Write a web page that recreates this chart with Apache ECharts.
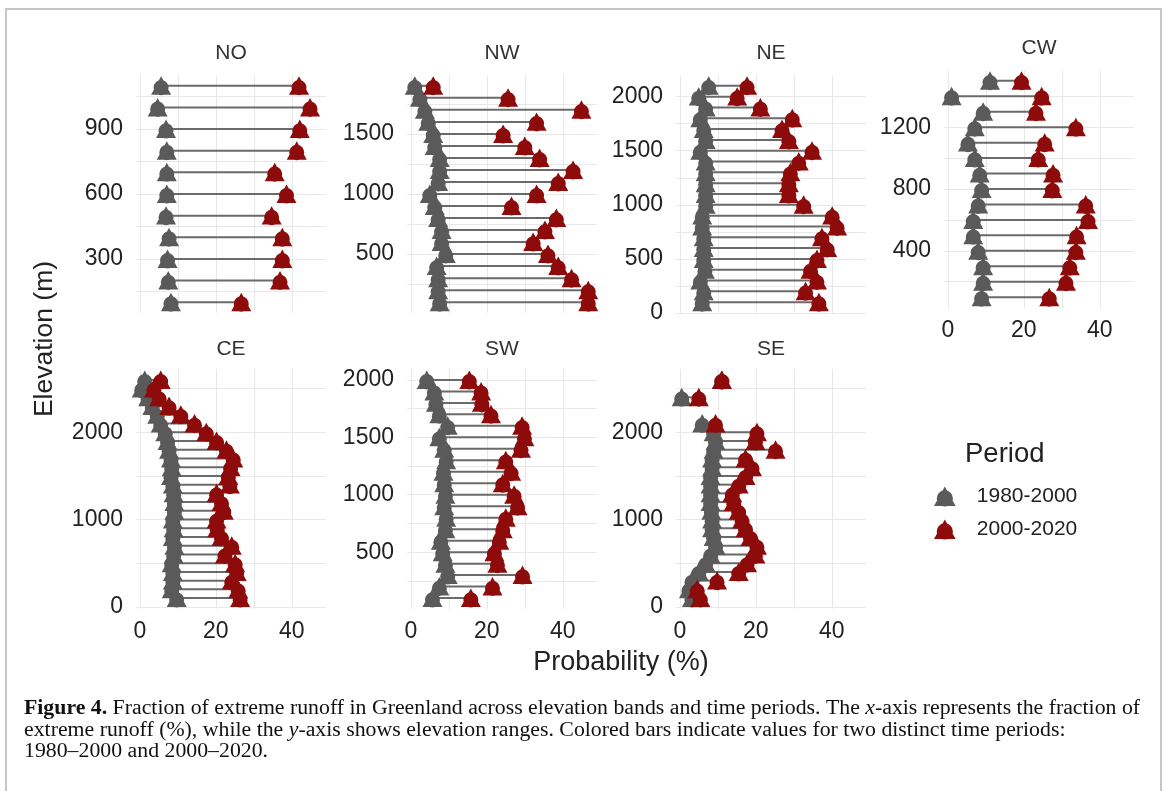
<!DOCTYPE html>
<html><head><meta charset="utf-8">
<script src="https://cdn.jsdelivr.net/npm/echarts@6/dist/echarts.min.js"></script>
<style>html,body{margin:0;padding:0;background:#fff}#c{width:1165px;height:791px}</style>
</head><body><div id="c"></div>
<script>
// ---------- data ----------
const periods = ['1980-2000', '2000-2020'];
const xLabels = [0, 20, 40];
const xGridVals = [0, 10, 20, 30, 40];

const NO_elev = [100,200,300,400,500,600,700,800,900,1000,1100];
const NO_p1 = [8.2,7.5,7.3,7.7,6.9,7.1,7.1,7.1,6.9,4.7,5.6];
const NO_p2 = [26.7,36.9,37.5,37.5,34.7,38.6,35.5,41.3,42.1,44.8,41.9];
const NO_yLabels = [300,600,900];
const NO_yGrid = [150,300,450,600,750,900,1050];

const NW_elev = [100,200,300,400,500,600,700,800,900,1000,1100,1200,1300,1400,1500,1600,1700,1800,1900];
const NW_p1 = [7.6,7.2,7.2,6.8,9.2,8.1,8.1,7.2,6.3,5.0,7.2,7.6,7.6,6.3,5.9,4.6,3.7,2.4,1.05];
const NW_p2 = [46.7,46.7,42.3,38.8,36.1,32.2,35.3,38.3,26.5,33.1,38.8,42.7,33.9,30.0,24.3,33.1,44.9,25.6,5.9];
const NW_yLabels = [500,1000,1500];
const NW_yGrid = [250,500,750,1000,1250,1500,1750];

const NE_elev = [100,200,300,400,500,600,700,800,900,1000,1100,1200,1300,1400,1500,1600,1700,1800,1900,2000,2100];
const NE_p1 = [5.9,6.3,5.4,6.6,6.3,6.3,6.3,5.9,5.9,6.8,6.8,6.8,6.8,6.8,5.4,6.8,6.3,5.4,6.8,5.0,7.6];
const NE_p2 = [36.6,33.1,36.1,34.4,36.1,38.8,37.4,41.4,40.1,32.6,28.7,28.7,29.1,31.3,34.8,28.7,26.9,29.6,21.2,15.1,17.7];
const NE_yLabels = [0,500,1000,1500,2000];
const NE_yGrid = [0,250,500,750,1000,1250,1500,1750,2000];

const CW_elev = [100,200,300,400,500,600,700,800,900,1000,1100,1200,1300,1400,1500];
const CW_p1 = [8.9,9.3,9.3,8.0,6.7,6.7,8.0,8.9,8.4,7.1,5.3,7.1,9.3,1.0,11.1];
const CW_p2 = [26.7,31.1,32.1,33.7,33.9,36.9,36.3,27.5,27.7,23.8,25.5,33.7,23.2,24.7,19.4];
const CW_yLabels = [400,800,1200];
const CW_yGrid = [200,400,600,800,1000,1200,1400];

const CE_elev = [100,200,300,400,500,600,700,800,900,1000,1100,1200,1300,1400,1500,1600,1700,1800,1900,2000,2100,2200,2300,2400,2500,2600];
const CE_p1 = [9.7,8.4,8.7,8.7,8.4,8.9,9.1,8.7,8.9,8.7,9.1,9.1,8.9,8.7,8.2,8.4,8.2,7.7,7.3,6.7,5.5,4.6,3.3,2.2,0.5,1.3];
const CE_p2 = [26.4,25.9,24.2,25.5,25.1,22.4,24.2,21.5,20.4,20.2,22.1,21.5,20.2,23.7,23.3,23.9,24.6,22.8,20.2,17.5,14.4,10.8,7.7,5.1,3.7,5.5];
const CE_yLabels = [0,1000,2000];
const CE_yGrid = [0,500,1000,1500,2000,2500];

const SW_elev = [100,200,300,400,500,600,700,800,900,1000,1100,1200,1300,1400,1500,1600,1700,1800,1900,2000];
const SW_p1 = [5.7,7.5,9.7,9.1,8.4,7.9,9.1,9.3,8.8,9.1,8.8,8.6,9.3,8.8,7.5,9.7,7.5,6.6,6.2,4.2];
const SW_p2 = [15.8,21.5,29.4,22.8,22.0,23.3,24.2,25.0,28.1,27.2,24.2,26.4,25.0,29.0,29.9,29.3,21.1,18.7,18.5,15.4];
const SW_yLabels = [500,1000,1500,2000];
const SW_yGrid = [250,500,750,1000,1250,1500,1750,2000];

const SE_elev = [100,200,300,400,500,600,700,800,900,1000,1100,1200,1300,1400,1500,1600,1700,1800,1900,2000,2100,2400,2600];
const SE_p1 = [3.2,2.4,3.2,5.0,6.8,8.1,9.4,8.9,8.5,8.5,8.3,8.1,8.1,8.1,8.1,8.5,8.5,8.9,9.4,8.9,5.9,0.5,11.0];
const SE_p2 = [5.4,4.6,9.8,15.5,17.7,19.9,20.3,18.6,17.3,16.4,15.5,14.2,13.8,15.5,17.3,19.0,17.3,25.2,19.9,20.3,9.4,5.0,11.1];
const SE_yLabels = [0,1000,2000];
const SE_yGrid = [0,500,1000,1500,2000,2500];

const captionLines = [
  '{b|Figure 4.} Fraction of extreme runoff in Greenland across elevation bands and time periods. The {i|x}-axis represents the fraction of',
  'extreme runoff (%), while the {i|y}-axis shows elevation ranges. Colored bars indicate values for two distinct time periods:',
  '1980\u20132000 and 2000\u20132020.'
];

// ---------- layout ----------
const FF = '"Liberation Sans", Arial, Helvetica, sans-serif';
const SERIF = '"Liberation Serif", "Times New Roman", serif';
const GRAY = '#5a5a5a', RED = '#8e0b0b', SEG = '#6a6a6a', GRID = '#e8e8e8', TXT = '#222';
const MARK = 'path://M10,0L20,18L0,18Z M2.5,11A7.5,7.5,0,1,1,17.5,11A7.5,7.5,0,1,1,2.5,11Z';
const PW = 190, XMIN = -1, XMAX = 49;
const plain = v => String(v);

const panels = [
  {name:'NO', elev:NO_elev, p1:NO_p1, p2:NO_p2, yMin:50, yMax:1150, yl:NO_yLabels, yg:NO_yGrid, left:136, top:75, h:238, xl:false, ty:53},
  {name:'NW', elev:NW_elev, p1:NW_p1, p2:NW_p2, yMin:10, yMax:1990, yl:NW_yLabels, yg:NW_yGrid, left:407, top:75, h:238, xl:false, ty:53},
  {name:'NE', elev:NE_elev, p1:NE_p1, p2:NE_p2, yMin:0, yMax:2200, yl:NE_yLabels, yg:NE_yGrid, left:676, top:75, h:238, xl:false, ty:53},
  {name:'CW', elev:CW_elev, p1:CW_p1, p2:CW_p2, yMin:30, yMax:1570, yl:CW_yLabels, yg:CW_yGrid, left:944, top:70, h:238, xl:true, ty:48},
  {name:'CE', elev:CE_elev, p1:CE_p1, p2:CE_p2, yMin:-25, yMax:2725, yl:CE_yLabels, yg:CE_yGrid, left:136, top:369, h:240, xl:true, ty:349},
  {name:'SW', elev:SW_elev, p1:SW_p1, p2:SW_p2, yMin:5, yMax:2095, yl:SW_yLabels, yg:SW_yGrid, left:407, top:369, h:240, xl:true, ty:349},
  {name:'SE', elev:SE_elev, p1:SE_p1, p2:SE_p2, yMin:-25, yMax:2725, yl:SE_yLabels, yg:SE_yGrid, left:676, top:369, h:240, xl:true, ty:349}
];

const grid = [], xAxis = [], yAxis = [], series = [], graphic = [];

graphic.push({type:'rect', z:-10, shape:{x:6, y:9, width:1155, height:830}, style:{fill:'none', stroke:'#c6c6c6', lineWidth:2}});

panels.forEach((p, k) => {
  grid.push({left:p.left, top:p.top, width:PW, height:p.h, containLabel:false});
  xAxis.push({
    type:'value', gridIndex:k, min:XMIN, max:XMAX,
    axisLine:{show:false}, axisTick:{show:false, customValues:xGridVals},
    axisLabel:{show:p.xl, customValues:xLabels, formatter:plain, margin:11, fontSize:23, color:TXT, fontFamily:FF},
    splitLine:{show:true, lineStyle:{color:GRID, width:1}}
  });
  yAxis.push({
    type:'value', gridIndex:k, min:p.yMin, max:p.yMax,
    axisLine:{show:false}, axisTick:{show:false, customValues:p.yg},
    axisLabel:{show:true, customValues:p.yl, formatter:plain, margin:13, fontSize:23, color:TXT, fontFamily:FF},
    splitLine:{show:true, lineStyle:{color:GRID, width:1}}
  });
  series.push({
    type:'custom', xAxisIndex:k, yAxisIndex:k, silent:true, z:1,
    encode:{x:[0,2], y:1},
    data:p.elev.map((e,i)=>[p.p1[i], e, p.p2[i]]),
    renderItem:(params, api)=>{
      const a = api.coord([api.value(0), api.value(1)]);
      const b = api.coord([api.value(2), api.value(1)]);
      return {type:'line', shape:{x1:a[0], y1:a[1], x2:b[0], y2:b[1]}, style:{stroke:SEG, lineWidth:2}};
    }
  });
  series.push({
    type:'scatter', name:periods[0], xAxisIndex:k, yAxisIndex:k, z:2,
    symbol:MARK, symbolSize:[20,19], itemStyle:{color:GRAY, opacity:1},
    data:p.elev.map((e,i)=>[p.p1[i], e])
  });
  series.push({
    type:'scatter', name:periods[1], xAxisIndex:k, yAxisIndex:k, z:3,
    symbol:MARK, symbolSize:[20,19], itemStyle:{color:RED, opacity:1},
    data:p.elev.map((e,i)=>[p.p2[i], e])
  });
  graphic.push({type:'text', x:p.left + PW/2, y:p.ty, style:{text:p.name, align:'center', verticalAlign:'middle', fontSize:21, fontFamily:FF, fill:'#333'}});
});

graphic.push({type:'text', x:45, y:339, rotation:Math.PI/2, style:{text:'Elevation (m)', align:'center', verticalAlign:'middle', fontSize:26.5, fontFamily:FF, fill:TXT}});
graphic.push({type:'text', x:621, y:663, style:{text:'Probability (%)', align:'center', verticalAlign:'middle', fontSize:27, fontFamily:FF, fill:TXT}});
graphic.push({type:'text', x:965, y:454, style:{text:'Period', align:'left', verticalAlign:'middle', fontSize:27.5, fontFamily:FF, fill:TXT}});

const capY = [709, 730.5, 752];
captionLines.forEach((t, i) => {
  graphic.push({type:'text', x:24, y:capY[i], scaleX:1.09, scaleY:1, style:{
    text:t, align:'left', verticalAlign:'middle', fontSize:20, fontFamily:SERIF, fill:'#111',
    rich:{
      b:{fontWeight:'bold', fontSize:20, fontFamily:SERIF, fill:'#111'},
      i:{fontStyle:'italic', fontSize:20, fontFamily:SERIF, fill:'#111'}
    }
  }});
});

const chart = echarts.init(document.getElementById('c'), null, {renderer:'canvas'});
chart.setOption({
  animation:false,
  backgroundColor:'#fff',
  grid, xAxis, yAxis, series, graphic,
  legend:{
    left:934, top:486, orient:'vertical', padding:0, itemWidth:22, itemHeight:20, itemGap:12,
    selectedMode:false,
    data:periods.map(n=>({name:n, icon:MARK})),
    textStyle:{fontSize:21, color:TXT, fontFamily:FF, padding:[0,0,0,16]}
  }
});
</script>
</body></html>
